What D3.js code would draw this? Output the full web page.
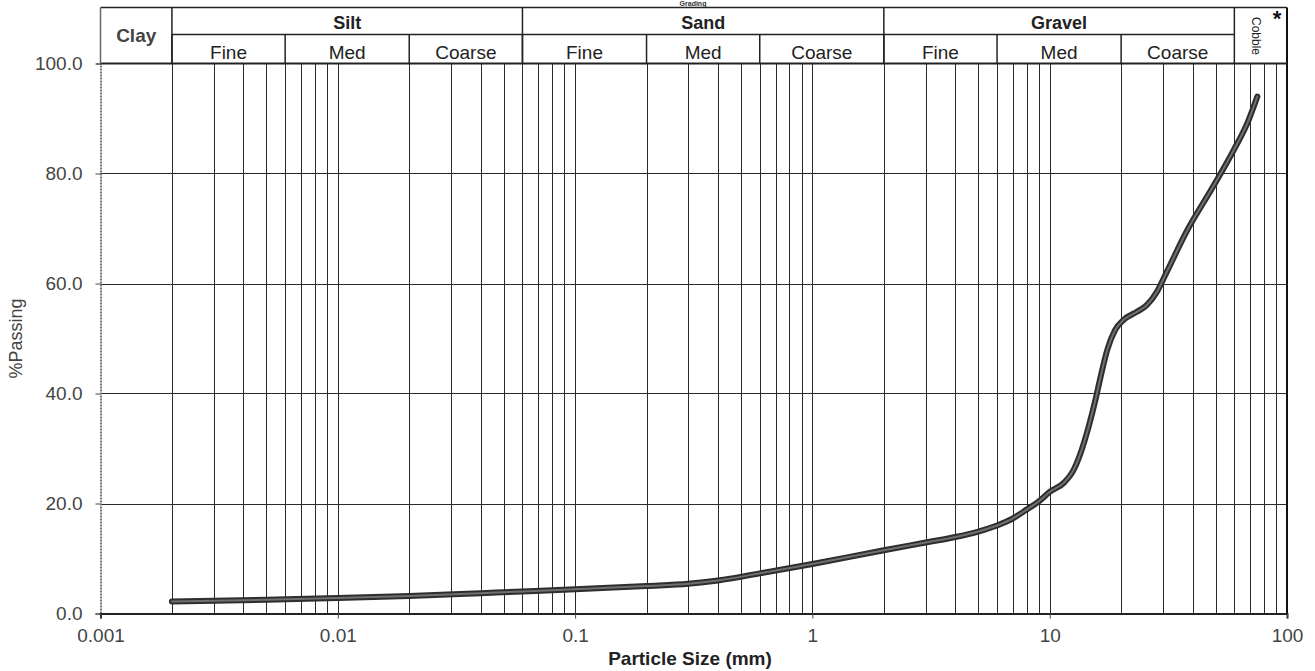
<!DOCTYPE html>
<html>
<head>
<meta charset="utf-8">
<script src="https://cdn.jsdelivr.net/npm/d3@7"></script>
<style>
  html, body { margin: 0; padding: 0; background: #fff; }
  svg { display: block; font-family: "Liberation Sans", Arial, sans-serif; }
</style>
</head>
<body>
<svg id="chart" width="1315" height="671"></svg>
<script>
// ---- data ----
const particleSize = [0.002, 0.005, 0.01, 0.02, 0.04, 0.06, 0.1, 0.2, 0.3, 0.4, 0.6, 1, 2, 3, 4, 5, 6, 7, 8, 9, 10, 11.5, 12.5, 13.5, 14.6, 15.6, 16.4, 17.5, 18.9, 20.5, 23.4, 25.7, 28.4, 31.3, 37.9, 49.1, 59.7, 68, 75];
const percentPassing = [2.2, 2.5, 2.8, 3.2, 3.7, 4.0, 4.4, 5.0, 5.4, 6.0, 7.3, 9.0, 11.5, 12.9, 13.9, 14.9, 16.0, 17.3, 18.9, 20.4, 22.1, 23.8, 25.8, 29.2, 34.0, 38.9, 43.1, 48.0, 51.6, 53.4, 54.9, 56.1, 58.6, 62.3, 69.6, 77.8, 84.3, 89.1, 94.0];

const xTickValues = [0.001, 0.01, 0.1, 1, 10, 100];
const xTickLabels = ["0.001", "0.01", "0.1", "1", "10", "100"];
const yTickValues = [0, 20, 40, 60, 80, 100];
const yTickLabels = ["0.0", "20.0", "40.0", "60.0", "80.0", "100.0"];

const mainClasses = ["Silt", "Sand", "Gravel"];
const mainBounds = [[0.002, 0.06], [0.06, 2], [2, 60]];
const subClasses = ["Fine", "Med", "Coarse", "Fine", "Med", "Coarse", "Fine", "Med", "Coarse"];
const subBounds = [[0.002, 0.006], [0.006, 0.02], [0.02, 0.06], [0.06, 0.2], [0.2, 0.6], [0.6, 2], [2, 6], [6, 20], [20, 60]];
const clayBounds = [0.001, 0.002];
const cobbleBounds = [60, 100];

const titleText = "Grading";
const xTitle = "Particle Size (mm)";
const yTitle = "%Passing";

// ---- layout ----
const L = 100.5, R = 1287, T = 63.5, B = 613.5;
const headTop = 7.5, headMid = 34.5;
const FONT = "Liberation Sans, Arial, sans-serif";

const svg = d3.select("#chart");
const x = d3.scaleLog().domain([0.001, 100]).range([L, R]);
const y = d3.scaleLinear().domain([0, 100]).range([B, T]);

// small title in the strip above the header
svg.append("text").attr("x", 693).attr("y", 6).attr("text-anchor", "middle")
  .attr("font-size", 7).attr("font-weight", "bold").attr("fill", "#333").text(titleText);

// vertical grid lines: every n*10^k
const gridVals = [];
for (let k = -3; k <= 1; k++) for (let n = 1; n <= 9; n++) {
  const v = n * Math.pow(10, k);
  if (v > 0.001 && v < 100) gridVals.push(+v.toPrecision(3));
}
svg.append("g").selectAll("line").data(gridVals).join("line")
  .attr("x1", d => Math.round(x(d)) + 0.5).attr("x2", d => Math.round(x(d)) + 0.5)
  .attr("y1", T).attr("y2", B)
  .attr("stroke", "#2a2a2a").attr("stroke-width", 1);

// horizontal grid
svg.append("g").selectAll("line").data(yTickValues.filter(v => v > 0 && v < 100)).join("line")
  .attr("x1", L).attr("x2", R)
  .attr("y1", d => Math.round(y(d)) + 0.5).attr("y2", d => Math.round(y(d)) + 0.5)
  .attr("stroke", "#2a2a2a").attr("stroke-width", 1);

// axes
const yAxis = d3.axisLeft(y).tickValues(yTickValues).tickFormat((d, i) => yTickLabels[i]).tickSize(5).tickPadding(13);
const gy = svg.append("g").attr("transform", `translate(${L},0)`).call(yAxis);
gy.select(".domain").attr("stroke", "#777").attr("stroke-width", 2).attr("stroke-dasharray", "2,1");
gy.selectAll(".tick line").attr("stroke", "#444");
gy.selectAll(".tick text").attr("font-size", 19).attr("fill", "#444").attr("font-family", FONT);

const xAxis = d3.axisBottom(x).tickValues(xTickValues).tickFormat((d, i) => xTickLabels[i]).tickSize(5).tickPadding(10);
const gx = svg.append("g").attr("transform", `translate(0,${B})`).call(xAxis);
gx.select(".domain").attr("stroke", "#222").attr("stroke-width", 2);
gx.selectAll(".tick line").attr("stroke", "#444");
gx.selectAll(".tick text").attr("font-size", 19).attr("fill", "#444").attr("font-family", FONT);

// right border
svg.append("line").attr("x1", R).attr("x2", R).attr("y1", headTop).attr("y2", B)
  .attr("stroke", "#111").attr("stroke-width", 2);

// axis titles
svg.append("text").attr("x", 690).attr("y", 665).attr("text-anchor", "middle")
  .attr("font-size", 19).attr("font-weight", "bold").attr("fill", "#222").text(xTitle);
svg.append("text").attr("transform", `translate(22,${(T + B) / 2}) rotate(-90)`)
  .attr("text-anchor", "middle").attr("font-size", 18).attr("fill", "#444").text(yTitle);

// ---- header ----
const head = svg.append("g");
const hs = "#222";
head.append("line").attr("x1", L).attr("x2", R).attr("y1", headTop).attr("y2", headTop).attr("stroke", hs).attr("stroke-width", 1.5);
head.append("line").attr("x1", x(clayBounds[1])).attr("x2", x(cobbleBounds[0])).attr("y1", headMid).attr("y2", headMid).attr("stroke", hs).attr("stroke-width", 1.5);
head.append("line").attr("x1", L).attr("x2", R).attr("y1", T).attr("y2", T).attr("stroke", hs).attr("stroke-width", 2);
head.append("line").attr("x1", L).attr("x2", L).attr("y1", headTop).attr("y2", T).attr("stroke", "#666").attr("stroke-width", 1.5);

head.selectAll("line.mb").data(mainBounds).join("line").attr("class", "mb")
  .attr("x1", d => x(d[0])).attr("x2", d => x(d[0])).attr("y1", headTop).attr("y2", T)
  .attr("stroke", hs).attr("stroke-width", 1.5);
head.append("line").attr("x1", x(cobbleBounds[0])).attr("x2", x(cobbleBounds[0])).attr("y1", headTop).attr("y2", T)
  .attr("stroke", hs).attr("stroke-width", 1.5);
head.selectAll("line.sb").data(subBounds).join("line").attr("class", "sb")
  .attr("x1", d => x(d[0])).attr("x2", d => x(d[0])).attr("y1", headMid).attr("y2", T)
  .attr("stroke", hs).attr("stroke-width", 1.5);

head.selectAll("text.main").data(mainClasses).join("text").attr("class", "main")
  .attr("x", (d, i) => (x(mainBounds[i][0]) + x(mainBounds[i][1])) / 2).attr("y", 29)
  .attr("text-anchor", "middle").attr("font-size", 18).attr("font-weight", "bold").attr("fill", "#222").text(d => d);
head.selectAll("text.sub").data(subClasses).join("text").attr("class", "sub")
  .attr("x", (d, i) => (x(subBounds[i][0]) + x(subBounds[i][1])) / 2).attr("y", 59)
  .attr("text-anchor", "middle").attr("font-size", 19).attr("fill", "#222").text(d => d);

head.append("text").attr("x", (x(clayBounds[0]) + x(clayBounds[1])) / 2).attr("y", 42)
  .attr("text-anchor", "middle").attr("font-size", 19).attr("font-weight", "bold").attr("fill", "#444").text("Clay");
const cobX = (x(cobbleBounds[0]) + x(cobbleBounds[1])) / 2;
head.append("text").attr("transform", `translate(${cobX - 6},17) rotate(90)`)
  .attr("font-size", 12).attr("fill", "#222").attr("dominant-baseline", "middle").text("Cobble");
head.append("text").attr("x", x(cobbleBounds[1]) - 10).attr("y", 26).attr("text-anchor", "middle")
  .attr("font-size", 22).attr("font-weight", "bold").attr("fill", "#111").text("*");

// ---- curve ----
const pts = particleSize.map((d, i) => [d, percentPassing[i]]);
const line = d3.line().x(d => x(d[0])).y(d => y(d[1])).curve(d3.curveMonotoneX);
svg.append("path").datum(pts).attr("d", line).attr("fill", "none")
  .attr("stroke", "#2e2e2e").attr("stroke-width", 6).attr("stroke-linecap", "round").attr("stroke-linejoin", "round");
svg.append("path").datum(pts).attr("d", line).attr("fill", "none")
  .attr("stroke", "#707070").attr("stroke-width", 2).attr("stroke-linecap", "round");
</script>
</body>
</html>
